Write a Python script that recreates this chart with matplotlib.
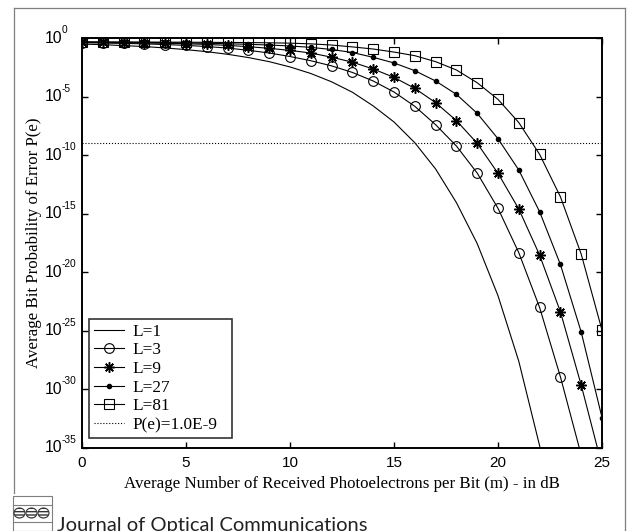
import matplotlib
matplotlib.use("Agg")
import matplotlib.pyplot as plt
import matplotlib.transforms as mtransforms
import numpy as np
from matplotlib.lines import Line2D
from matplotlib.patches import Rectangle, Ellipse

# --- data (log10 of P(e)) ---
snr_db = list(range(26))

log_pe_L1 = [-0.52, -0.57, -0.65, -0.73, -0.85, -0.99, -1.17, -1.39, -1.67, -2.02,
             -2.47, -3.03, -3.74, -4.63, -5.80, -7.17, -8.94, -11.18, -14.05, -17.55,
             -22.0, -27.6, -34.8, -43.6, -54.8, -69.0]
log_pe_L3 = [-0.40, -0.43, -0.46, -0.50, -0.56, -0.63, -0.73, -0.86, -1.05, -1.28,
             -1.58, -1.94, -2.38, -2.94, -3.67, -4.61, -5.83, -7.40, -9.22, -11.53,
             -14.54, -18.33, -23.0, -28.92, -35.6, -43.5]
log_pe_L9 = [-0.37, -0.38, -0.40, -0.42, -0.45, -0.49, -0.55, -0.63, -0.74, -0.88,
             -1.06, -1.28, -1.64, -2.06, -2.65, -3.36, -4.30, -5.52, -7.05, -8.99,
             -11.55, -14.6, -18.53, -23.37, -29.63, -36.5]
log_pe_L27 = [-0.35, -0.36, -0.37, -0.38, -0.40, -0.42, -0.45, -0.49, -0.54, -0.60,
              -0.68, -0.80, -0.98, -1.24, -1.65, -2.13, -2.79, -3.67, -4.81, -6.43,
              -8.60, -11.27, -14.83, -19.33, -25.1, -32.4]
log_pe_L81 = [-0.33, -0.34, -0.34, -0.35, -0.35, -0.36, -0.37, -0.38, -0.39, -0.41,
              -0.44, -0.50, -0.60, -0.76, -0.94, -1.20, -1.51, -2.02, -2.73, -3.82,
              -5.24, -7.22, -9.93, -13.55, -18.45, -24.94]
threshold = 1.0e-9

y_ticks = [1e0, 1e-5, 1e-10, 1e-15, 1e-20, 1e-25, 1e-30, 1e-35]
y_tick_exps = ["0", "-5", "-10", "-15", "-20", "-25", "-30", "-35"]
x_ticks = [0, 5, 10, 15, 20, 25]

W, H = 630, 531
fig = plt.figure(figsize=(W / 100, H / 100), dpi=100)
ax = fig.add_axes([82 / W, 1 - 448 / H, 520 / W, 410 / H])

x = np.array(snr_db)
lw = 0.8
ax.plot(x, 10.0 ** np.array(log_pe_L1), "-", color="k", lw=lw, label="L=1")
ax.plot(x, 10.0 ** np.array(log_pe_L3), "-o", color="k", lw=lw, ms=7,
        mfc="none", mew=0.8, label="L=3")
ax.plot(x, 10.0 ** np.array(log_pe_L9), "-", marker=(8, 2, 0), color="k", lw=lw,
        ms=7.5, mew=1.1, label="L=9")
ax.plot(x, 10.0 ** np.array(log_pe_L27), "-o", color="k", lw=lw, ms=3,
        label="L=27")
ax.plot(x, 10.0 ** np.array(log_pe_L81), "-s", color="k", lw=lw, ms=7,
        mfc="none", mew=0.8, label="L=81")
ax.plot([0, 25], [threshold, threshold], ":", color="k", lw=0.8,
        label="P(e)=1.0E-9")

ax.set_yscale("log")
ax.set_xlim(0, 25)
ax.set_ylim(1e-35, 1e0)
ax.set_xticks(x_ticks)
ax.set_xticklabels([str(t) for t in x_ticks], family="Liberation Sans", fontsize=11)
ax.set_yticks(y_ticks)
ax.set_yticklabels([])
ax.yaxis.set_minor_locator(matplotlib.ticker.NullLocator())
ax.tick_params(which="major", direction="in", length=4, width=1.0,
               top=True, right=True)
ax.tick_params(axis="x", pad=6)
for sp in ax.spines.values():
    sp.set_linewidth(1.4)

# MATLAB-style "10^n" labels: base and raised exponent as separate texts
ytr = ax.get_yaxis_transform()
base_tr = mtransforms.offset_copy(ytr, fig=fig, x=-37, y=0, units="dots")
exp_tr = mtransforms.offset_copy(ytr, fig=fig, x=-20, y=5, units="dots")
for val, e in zip(y_ticks, y_tick_exps):
    ax.text(0, val, "10", transform=base_tr, family="Liberation Sans",
            fontsize=11.3, ha="left", va="center", clip_on=False)
    ax.text(0, val, e, transform=exp_tr, family="Liberation Sans",
            fontsize=7.3, ha="left", va="baseline", clip_on=False)

serif = "Liberation Serif"
ax.set_xlabel("Average Number of Received Photoelectrons per Bit (m) - in dB",
              family=serif, fontsize=12.2, labelpad=4)
ax.set_ylabel("Average Bit Probability of Error P(e)", family=serif,
              fontsize=12.2)
ax.yaxis.set_label_coords(-0.077, 0.5)

leg = ax.legend(loc="lower left", bbox_to_anchor=(0.014, 0.024, 0.274, 0.29),
                mode="expand",
                prop={"family": serif, "size": 12.4}, frameon=True,
                fancybox=False, edgecolor="k", handlelength=1.7,
                handletextpad=0.5, labelspacing=0.15, borderpad=0.3,
                borderaxespad=0)
leg.get_frame().set_linewidth(1.2)

# --- outer page frame ---
gray = "#7f7f7f"
fig.add_artist(Line2D([14 / W, 14 / W], [1 - 8 / H, 1 - 493 / H], color=gray, lw=0.9))
fig.add_artist(Line2D([14 / W, 625 / W], [1 - 8 / H, 1 - 8 / H], color=gray, lw=0.9))
fig.add_artist(Line2D([625 / W, 625 / W], [1 - 8 / H, 0], color=gray, lw=0.9))

# --- journal logo ---
fig.add_artist(Rectangle((13 / W, 0), 39 / W, 35 / H, fill=False, ec=gray, lw=0.8,
                         transform=fig.transFigure))
fig.add_artist(Line2D([13 / W, 52 / W], [1 - 505 / H, 1 - 505 / H], color=gray, lw=0.8))
fig.add_artist(Line2D([13 / W, 52 / W], [1 - 522 / H, 1 - 522 / H], color=gray, lw=0.8))
for cx in (19.5, 31.5, 43.5):
    fig.add_artist(Ellipse((cx / W, 1 - 513 / H), 11 / W, 10 / H, fill=False,
                           ec="#333333", lw=0.8, hatch="-----",
                           transform=fig.transFigure))
fig.text(57 / W, 0, "Journal of Optical Communications", family="Lato",
         fontsize=14.5, color="#222222", ha="left", va="baseline")

fig.savefig("out.png", dpi=100)
